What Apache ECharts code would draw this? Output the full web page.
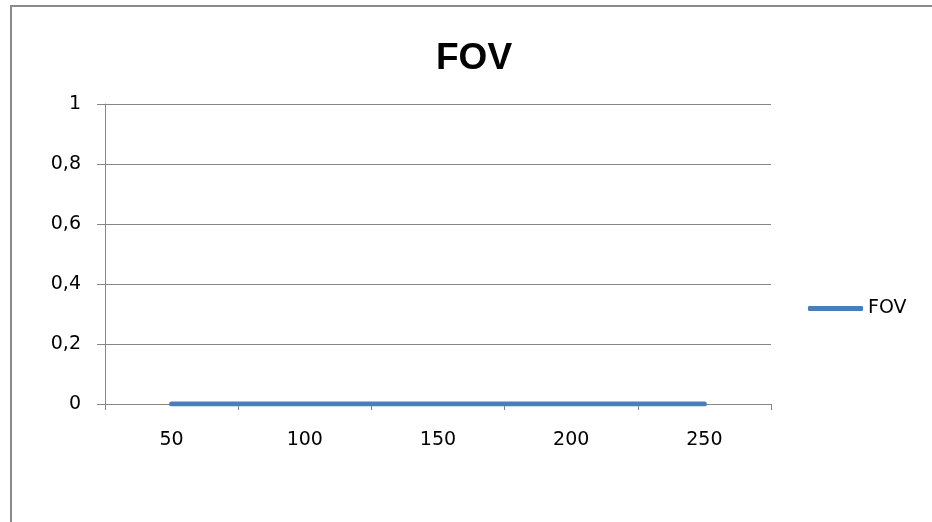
<!DOCTYPE html>
<html>
<head>
<meta charset="utf-8">
<script src="https://cdn.jsdelivr.net/npm/echarts@6/dist/echarts.min.js"></script>
<style>
html,body{margin:0;padding:0;background:#fff;}
#chart{width:932px;height:522px;}
</style>
</head>
<body>
<div id="chart"></div>
<script>
const categories = ['50', '100', '150', '200', '250'];
const fovValues = [0, 0, 0, 0, 0];
const seriesName = 'FOV';
const chartTitle = 'FOV';

const chart = echarts.init(document.getElementById('chart'), null, {renderer: 'canvas'});
const axisGray = '#868686';
const labelFont = 'DejaVu Sans';
chart.setOption({
  animation: false,
  backgroundColor: '#ffffff',
  graphic: [{
    type: 'rect',
    shape: {x: 11, y: 6, width: 1000, height: 1000},
    style: {fill: 'none', stroke: '#8a8a8a', lineWidth: 2},
    silent: true
  }],
  title: {
    text: chartTitle,
    left: 436,
    top: 40,
    padding: 0,
    textStyle: {fontFamily: 'Liberation Sans', fontWeight: 'bold', fontSize: 37, color: '#000'}
  },
  legend: {
    data: [{name: seriesName, icon: 'roundRect'}],
    left: 808,
    top: 299,
    padding: 0,
    itemWidth: 55,
    itemHeight: 5,
    itemGap: 4,
    textStyle: {fontFamily: labelFont, fontSize: 19, color: '#000'}
  },
  grid: {left: 105, right: 161, top: 104, bottom: 118, containLabel: false},
  xAxis: {
    type: 'category',
    data: categories,
    boundaryGap: true,
    axisLine: {show: true, lineStyle: {color: axisGray, width: 1}},
    axisTick: {show: true, alignWithLabel: false, length: 6, lineStyle: {color: axisGray}},
    axisLabel: {margin: 27, fontFamily: labelFont, fontSize: 19, color: '#000'},
    splitLine: {show: false}
  },
  yAxis: {
    type: 'value',
    min: 0,
    max: 1,
    interval: 0.2,
    axisLine: {show: true, lineStyle: {color: axisGray, width: 1}},
    axisTick: {show: true, length: 8, lineStyle: {color: axisGray}},
    axisLabel: {
      margin: 24,
      fontFamily: labelFont,
      fontSize: 19,
      color: '#000',
      formatter: v => String(Math.round(v * 10) / 10).replace('.', ',')
    },
    splitLine: {show: true, lineStyle: {color: axisGray, width: 1}}
  },
  series: [{
    name: seriesName,
    type: 'line',
    data: fovValues,
    symbol: 'none',
    lineStyle: {color: '#4a7ebb', width: 5, cap: 'round'},
    itemStyle: {color: '#4a7ebb'}
  }]
});
</script>
</body>
</html>
